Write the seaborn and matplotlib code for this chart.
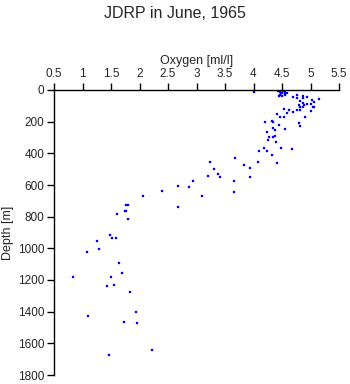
import matplotlib
matplotlib.use("Agg")
import matplotlib.pyplot as plt
import seaborn as sns
import pandas as pd

oxygen = [4.00, 4.43, 4.46, 4.48, 4.50, 4.52, 4.55, 4.47, 4.50, 4.55, 4.58, 4.44, 4.53, 4.49, 4.56,
          4.69, 4.77, 4.77, 4.86, 4.86, 4.94, 5.03, 5.07, 5.15, 4.82, 4.86, 4.79, 4.89, 4.94,
          5.01, 4.86, 4.82, 5.05, 5.07, 4.77, 4.82, 5.00, 4.63, 4.54, 4.70, 4.59, 4.42, 4.47,
          4.54, 4.90, 4.21, 4.33, 4.35, 4.44, 4.79, 4.82, 4.35, 4.37, 4.55, 4.23, 4.38, 4.35,
          4.28, 4.26, 4.40, 4.18, 4.49, 4.68, 4.10, 4.23, 4.33, 3.68, 4.08, 4.42, 3.24, 3.84,
          3.93, 3.30, 3.37, 3.42, 3.21, 3.93, 2.93, 3.66, 2.87, 3.10, 3.66, 2.67, 2.40, 2.06,
          2.67, 1.76, 1.80, 1.75, 1.77, 1.61, 1.79, 1.48, 1.51, 1.58, 1.26, 1.29, 1.08, 1.64,
          1.70, 0.84, 1.50, 1.43, 1.55, 1.83, 1.10, 1.94, 1.72, 1.96, 2.22, 1.47]
depth = [15, 5, 10, 0, 18, 8, 25, 30, 35, 12, 20, 40, 3, 22, 30,
         46, 30, 52, 38, 52, 46, 63, 76, 59, 68, 80, 97, 97, 90,
         88, 109, 105, 109, 109, 128, 128, 135, 128, 122, 141, 147, 153, 172,
         169, 172, 202, 194, 202, 219, 210, 229, 242, 251, 248, 267, 292, 299,
         299, 314, 328, 364, 364, 375, 387, 387, 409, 431, 455, 463, 457, 476,
         493, 501, 531, 551, 545, 551, 573, 573, 611, 671, 646, 606, 636, 671,
         741, 726, 728, 762, 762, 785, 817, 918, 937, 937, 956, 1006, 1023, 1095,
         1158, 1183, 1183, 1240, 1234, 1278, 1429, 1404, 1467, 1474, 1644, 1676]

df = pd.DataFrame({"Oxygen": oxygen, "Depth": depth})

sns.set_style("white")
plt.rcParams["font.family"] = ["Liberation Sans", "DejaVu Sans"]

fig = plt.figure(figsize=(3.5, 3.84), dpi=100)
ax = fig.add_axes([54/350, 1 - 375/384, 285/350, 285/384])

sns.scatterplot(data=df, x="Oxygen", y="Depth", ax=ax, marker="s", s=4.5,
                color="#0000FF", edgecolor="#0000FF", linewidth=0.2)

ax.set_xlim(0.5, 5.5)
ax.set_ylim(1800, 0)
ax.set_xticks([0.5, 1, 1.5, 2, 2.5, 3, 3.5, 4, 4.5, 5, 5.5])
ax.set_xticklabels(["0.5", "1", "1.5", "2", "2.5", "3", "3.5", "4", "4.5", "5", "5.5"])
ax.set_yticks(range(0, 1801, 200))
ax.xaxis.tick_top()
ax.xaxis.set_label_position("top")
ax.set_xlabel("Oxygen [ml/l]", fontsize=9, labelpad=3)
ax.set_ylabel("Depth [m]", fontsize=9, labelpad=3)
ax.tick_params(axis="both", labelsize=8.5, length=5, width=1, color="black",
               direction="out", pad=2)
ax.tick_params(axis="x", top=True, bottom=False)
ax.tick_params(axis="y", left=True, right=False)
for side in ["right", "bottom"]:
    ax.spines[side].set_visible(False)
for side in ["left", "top"]:
    ax.spines[side].set_color("black")
    ax.spines[side].set_linewidth(1)
ax.grid(False)

fig.text(0.5, 1 - 13/384, "JDRP in June, 1965", ha="center", va="center", fontsize=11.5)

fig.savefig("out.png", dpi=100, facecolor="white")
